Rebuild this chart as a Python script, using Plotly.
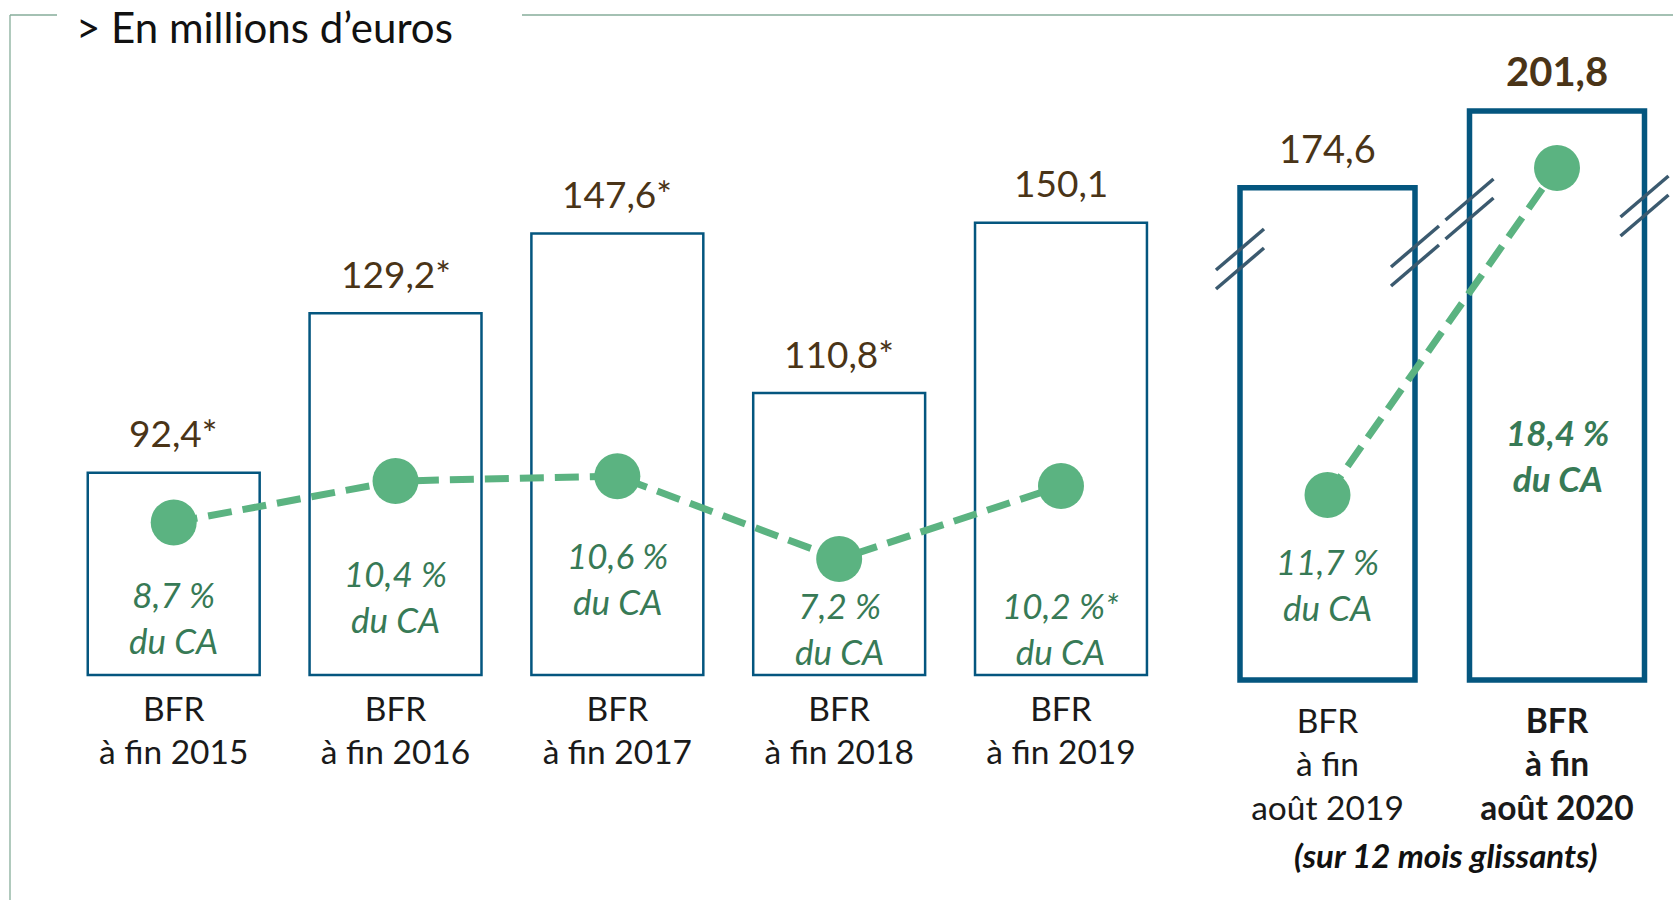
import plotly.graph_objects as go

# ---- data -------------------------------------------------------------
annual_labels = ["BFR<br>à fin 2015", "BFR<br>à fin 2016", "BFR<br>à fin 2017",
                 "BFR<br>à fin 2018", "BFR<br>à fin 2019"]
annual_bfr = [92.4, 129.2, 147.6, 110.8, 150.1]          # M€
annual_bfr_flag = ["*", "*", "*", "*", ""]
annual_pct_ca = [8.7, 10.4, 10.6, 7.2, 10.2]              # % du CA
annual_pct_flag = ["", "", "", "", "*"]

rolling_labels = ["BFR<br>à fin<br>août 2019",
                  "<b>BFR</b><br><b>à fin</b><br><b>août 2020</b>"]
rolling_bfr = [174.6, 201.8]
rolling_pct_ca = [11.7, 18.4]

unit_title = "> En millions d’euros"
rolling_note = "(sur 12 mois glissants)"

# ---- style ------------------------------------------------------------
W, H = 1673, 900
FONT = "Lato"
BLUE = "#04567f"
DOT_GREEN = "#5bb381"
TXT_GREEN = "#377a56"
BROWN = "#4a3417"
FRAME = "#86ad9a"
BREAK = "#3b5a6f"

BAR_W_L = 0.775
BAR_W_R = 0.7625
FLOOR_L = 45.7          # left panel bars rise from this level


def fx(p):
    return p / W


def fy(p):
    return 1 - p / H


def fmt(v, flag=""):
    return f"{v:.1f}".replace(".", ",") + flag


fig = go.Figure()

xl = list(range(len(annual_bfr)))
xr = list(range(len(rolling_bfr)))

# bars, left panel (annual)
fig.add_trace(go.Bar(
    x=xl, y=[v - FLOOR_L for v in annual_bfr], base=FLOOR_L,
    width=BAR_W_L, marker=dict(color="rgba(255,255,255,0)",
                               line=dict(color=BLUE, width=2.5)),
    xaxis="x", yaxis="y", showlegend=False, hoverinfo="skip"))

# bars, right panel (rolling 12 months)
fig.add_trace(go.Bar(
    x=xr, y=rolling_bfr, width=BAR_W_R,
    marker=dict(color="rgba(255,255,255,0)", line=dict(color=BLUE, width=5.5)),
    xaxis="x2", yaxis="y3", showlegend=False, hoverinfo="skip"))

line_style = dict(color=DOT_GREEN, width=7, dash="24px,11px")
fig.add_trace(go.Scatter(
    x=xl, y=annual_pct_ca, mode="lines+markers", line=line_style,
    marker=dict(size=46, color=DOT_GREEN), xaxis="x", yaxis="y2",
    showlegend=False, hoverinfo="skip"))
fig.add_trace(go.Scatter(
    x=xr, y=rolling_pct_ca, mode="lines+markers", line=line_style,
    marker=dict(size=46, color=DOT_GREEN), xaxis="x2", yaxis="y4",
    showlegend=False, hoverinfo="skip"))

ann = []

# value labels above the bars
for i, (v, f) in enumerate(zip(annual_bfr, annual_bfr_flag)):
    ann.append(dict(x=i, y=v, xref="x", yref="y", text=fmt(v, f), showarrow=False,
                    yanchor="middle", yshift=40,
                    font=dict(family=FONT, size=37, color=BROWN)))
for i, v in enumerate(rolling_bfr):
    txt = fmt(v) if i == 0 else f"<b>{fmt(v)}</b>"
    ann.append(dict(x=i, y=v, xref="x2", yref="y3", text=txt, showarrow=False,
                    yanchor="middle", yshift=40,
                    font=dict(family=FONT, size=38 if i == 0 else 40, color=BROWN)))

# share of revenue labels inside the bars
pct_label_y_l = [617, 596, 578, 628, 628]
for i, (p, f) in enumerate(zip(annual_pct_ca, annual_pct_flag)):
    ann.append(dict(x=i, y=fy(pct_label_y_l[i]), xref="x", yref="paper",
                    text=f"<i>{fmt(p)} %{f}<br>du CA</i>", showarrow=False,
                    yanchor="middle",
                    font=dict(family=FONT, size=35, color=TXT_GREEN)))
pct_label_y_r = [584, 455]
for i, p in enumerate(rolling_pct_ca):
    txt = f"<i>{fmt(p)} %<br>du CA</i>"
    if i == 1:
        txt = f"<b>{txt}</b>"
    ann.append(dict(x=i, y=fy(pct_label_y_r[i]), xref="x2", yref="paper",
                    text=txt, showarrow=False, yanchor="middle",
                    font=dict(family=FONT, size=35, color=TXT_GREEN)))

# header and footnote
ann.append(dict(x=fx(74), y=1, xref="paper", yref="paper", text=unit_title,
                showarrow=False, xanchor="left", yanchor="top",
                font=dict(family=FONT, size=42, color="#111111")))
ann.append(dict(x=fx(1446), y=fy(855), xref="paper", yref="paper",
                text=f"<b><i>{rolling_note}</i></b>", showarrow=False,
                xanchor="center", yanchor="middle",
                font=dict(family=FONT, size=33, color="#111111")))

shapes = [
    dict(type="line", xref="paper", yref="paper", x0=fx(10), x1=fx(10),
         y0=fy(15), y1=0, line=dict(color=FRAME, width=1.3)),
    dict(type="line", xref="paper", yref="paper", x0=fx(10), x1=fx(57),
         y0=fy(15), y1=fy(15), line=dict(color=FRAME, width=1.3)),
    dict(type="line", xref="paper", yref="paper", x0=fx(522), x1=1,
         y0=fy(15), y1=fy(15), line=dict(color=FRAME, width=1.3)),
]

# axis-break marks on the rolling bars
break_marks = [(0 - BAR_W_R / 2, 259), (0 + BAR_W_R / 2, 256),
               (1 - BAR_W_R / 2, 209), (1 + BAR_W_R / 2, 206)]
for xe, yp in break_marks:
    for off in (9.5, -9.5):
        shapes.append(dict(type="line", xref="x2", yref="paper",
                           xsizemode="pixel", ysizemode="pixel",
                           xanchor=xe, yanchor=fy(yp),
                           x0=-24, x1=24, y0=off - 20.5, y1=off + 20.5,
                           line=dict(color=BREAK, width=3.5)))

hidden_y = dict(visible=False, showgrid=False, zeroline=False, fixedrange=True)
tick_font = dict(family=FONT, size=33.5, color="#1a1a1a")

fig.update_layout(
    width=W, height=H, autosize=False,
    margin=dict(l=0, r=0, t=0, b=0),
    paper_bgcolor="white", plot_bgcolor="rgba(0,0,0,0)",
    showlegend=False, barmode="overlay",
    xaxis=dict(domain=[fx(62.8), fx(1171.9)], range=[-0.5, 4.5],
               tickvals=xl, ticktext=annual_labels, tickfont=tick_font,
               anchor="free", position=fy(686), showline=False, showgrid=False,
               zeroline=False, ticks=""),
    xaxis2=dict(domain=[fx(1212.75), fx(1671.75)], range=[-0.5, 1.5],
                tickvals=xr, ticktext=rolling_labels, tickfont=tick_font,
                anchor="free", position=fy(698), showline=False, showgrid=False,
                zeroline=False, ticks=""),
    yaxis=dict(domain=[0, 1], range=[-6.2, 201.5], anchor="x", **hidden_y),
    yaxis2=dict(range=[-6.8, 30.15], overlaying="y", anchor="x", **hidden_y),
    yaxis3=dict(domain=[0, 1], range=[-78.0, 241.2], anchor="x2", **hidden_y),
    yaxis4=dict(range=[3.40, 21.84], overlaying="y3", anchor="x2", **hidden_y),
    annotations=ann, shapes=shapes,
)

fig.write_html("out.html")
